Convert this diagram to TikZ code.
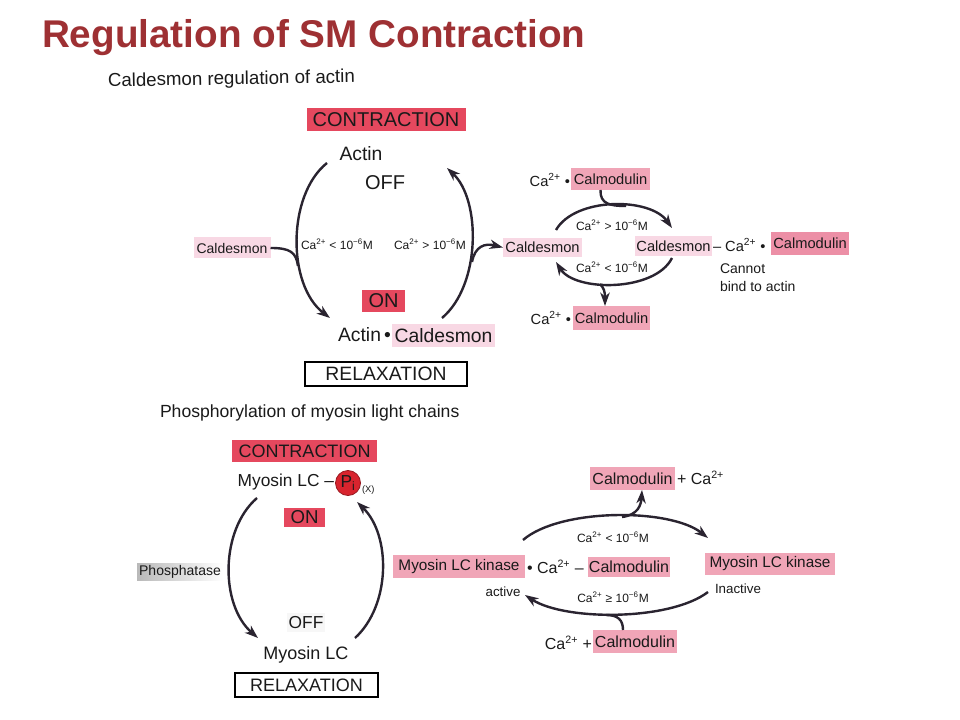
\documentclass[tikz,border=0pt]{standalone}
\usepackage{fontspec}
\setmainfont{Liberation Sans}
\usetikzlibrary{arrows.meta,shadings}
\definecolor{titlered}{HTML}{9E3033}
\definecolor{boxred}{HTML}{E5485E}
\definecolor{pinkL}{HTML}{F8D8E4}
\definecolor{pinkD}{HTML}{F0A5B7}
\definecolor{pinkM}{HTML}{EC8FA6}
\definecolor{linec}{HTML}{2A2430}
\definecolor{txt}{HTML}{1A1A1A}
\definecolor{pred}{HTML}{D8242E}
\newcommand{\cazp}{Ca\textsuperscript{2+}}
\newcommand{\fsz}[1]{\fontsize{#1pt}{#1pt}\selectfont}
\begin{document}
\begin{tikzpicture}[x=0.75pt,y=-0.75pt,
  every node/.style={text=txt, inner sep=0pt, outer sep=0pt},
  wh/.style 2 args={minimum width=#1*0.75pt, minimum height=#2*0.75pt},
  redbox/.style={fill=boxred},
  lpink/.style={fill=pinkL},
  dpink/.style={fill=pinkD},
  mpink/.style={fill=pinkM},
  framebox/.style={draw=black, line width=0.9pt, fill=white},
  arr/.style={draw=linec, line width=1.8pt, -{Stealth[length=10pt,width=7pt,inset=3pt]}},
  plain/.style={draw=linec, line width=1.8pt},
  small/.style={font=\fsz{9}},
]
\useasboundingbox (0,0) rectangle (960,720);
\fill[white] (0,0) rectangle (960,720);

% ---- titles
\node[anchor=west, text=titlered, font=\bfseries\fsz{29}] (title) at (42,38) {Regulation of SM Contraction};
\node[anchor=west, font=\fsz{14}, rotate=1] (sub1) at (108,82) {Caldesmon regulation of actin};

% ---- top-left cycle
\node[redbox, wh={159}{23}, font=\fsz{15}] (contr1) at (386,120) {CONTRACTION};
\node[font=\fsz{14.5}] (actin) at (361,154) {Actin};
\node[font=\fsz{15}] (off1) at (385,183) {OFF};
\node[lpink, wh={77}{21}, font=\fsz{10.5}] (caldL) at (232,248) {Caldesmon};
\node[small] (lowca1) at (337,244) {\cazp{} < 10\textsuperscript{−6}M};
\node[small] (highca1) at (430,244) {\cazp{} > 10\textsuperscript{−6}M};
\node[redbox, wh={43}{22}, font=\fsz{15}] (on1) at (383.5,301) {ON};
\node[anchor=east, font=\fsz{14.5}] (actin2) at (391,335) {Actin\,•};
\node[lpink, wh={103}{23}, font=\fsz{14.5}] (caldB) at (443.5,335.5) {Caldesmon};
\node[framebox, wh={162}{24}, font=\fsz{14.5}] (relax1) at (386,374) {RELAXATION};

\coordinate (l1s) at (327,163);
\coordinate (l1e) at (330,318);
\coordinate (r1s) at (442,318);
\coordinate (r1e) at (447,168);
\coordinate (l1m) at (298,266);
\coordinate (r1m) at (472,262);
\draw[arr] (l1s) .. controls (287,195) and (287,285) .. (l1e);
\draw[arr] (r1s) .. controls (481,285) and (481,200) .. (r1e);
\draw[plain] (caldL.east) .. controls (290,248) and (296,252) .. (l1m);

% ---- top-right
\node[anchor=east, font=\fsz{11}] (ca1) at (570,180) {\cazp{} •};
\node[dpink, wh={79}{22}, font=\fsz{11}] (calm1) at (610.5,179) {Calmodulin};
\node[lpink, wh={79}{19}, font=\fsz{11}] (caldR1) at (542.5,247.5) {Caldesmon};
\node[small] (hc2) at (612,225) {\cazp{} > 10\textsuperscript{−6}M};
\node[small] (lc2) at (612,267) {\cazp{} < 10\textsuperscript{−6}M};
\node[lpink, wh={77}{20}, font=\fsz{11}] (caldR2) at (673.5,246) {Caldesmon};
\node[anchor=west, font=\fsz{11}] (dash2) at (713,245) {– \cazp{} •};
\node[mpink, wh={78}{23}, font=\fsz{11}] (calm2) at (810,243.5) {Calmodulin};
\node[anchor=north west, align=left, font=\fsz{10.5}] (cannot) at (720,264) {Cannot\\[3pt]bind to actin};
\node[anchor=east, font=\fsz{11}] (ca3) at (571,318) {\cazp{} •};
\node[dpink, wh={77}{24}, font=\fsz{11}] (calm3) at (611.5,318) {Calmodulin};

\draw[arr] (r1m) .. controls (475,246) and (485,243) .. (caldR1.west);
\coordinate (t2s) at (556,230);
\coordinate (t2e) at (672,228);
\coordinate (t2m) at (626,206);
\coordinate (b2s) at (672,258);
\coordinate (b2e) at (556,262);
\coordinate (b2m) at (600,284);
\draw[arr] (t2s) .. controls (575,197) and (650,197) .. (t2e);
\draw[plain] (calm1.south) ++(-10,0) coordinate (c1s) .. controls (600,204) and (610,206) .. (t2m);
\draw[arr] (b2s) .. controls (655,292) and (575,292) .. (b2e);
\draw[arr] (b2m) .. controls (604,288) and (605,292) .. (calm3.north -| 605,300);

% ---- bottom-left cycle
\node[anchor=west, font=\fsz{13.2}] (sub2) at (160,413) {Phosphorylation of myosin light chains};
\node[redbox, wh={145}{22}, font=\fsz{13.5}] (contr2) at (304.5,451) {CONTRACTION};
\node[anchor=east, font=\fsz{13}] (mlc) at (334,482) {Myosin LC –};
\node[circle, fill=pred, draw=pred!70!black, line width=0.6pt, minimum size=25*0.75pt, font=\fsz{13}] (pi) at (348,483) {P\textsubscript{i}};
\node[anchor=west, font=\fsz{7}] (xx) at (362,490) {(X)};
\node[redbox, wh={41}{19}, font=\fsz{14}] (on2) at (304.5,517.5) {ON};
\node[left color=gray!55, right color=white, wh={86}{17}, font=\fsz{10.5}] (phos) at (180,571.5) {Phosphatase};
\node[fill=gray!6, wh={38}{19}, font=\fsz{13}] (off2) at (306,622.5) {OFF};
\node[font=\fsz{13.5}] (mlc2) at (306,655) {Myosin LC};
\node[framebox, wh={143}{24}, font=\fsz{13.5}] (relax2) at (306.5,685) {RELAXATION};

\coordinate (l3s) at (257,498);
\coordinate (l3e) at (258,638);
\coordinate (r3s) at (355,638);
\coordinate (r3e) at (357,502);
\draw[arr] (l3s) .. controls (220,530) and (220,605) .. (l3e);
\draw[arr] (r3s) .. controls (391,605) and (391,535) .. (r3e);

% ---- bottom-right
\node[dpink, wh={85}{23}, font=\fsz{12}] (calm4) at (632.5,478.5) {Calmodulin};
\node[anchor=west, font=\fsz{12}] (plus4) at (677,478) {+ \cazp};
\node[small] (lc3) at (613,537) {\cazp{} < 10\textsuperscript{−6}M};
\node[dpink, wh={132}{23}, font=\fsz{11.5}] (mlck1) at (459,566.5) {Myosin LC kinase};
\node[anchor=west, font=\fsz{12}] (mid5) at (527,567) {• \cazp{} –};
\node[dpink, wh={82}{20}, font=\fsz{12}] (calm5) at (629,567) {Calmodulin};
\node[dpink, wh={130}{22}, font=\fsz{11.5}] (mlck2) at (770,564) {Myosin LC kinase};
\node[font=\fsz{10}] (active) at (503,592) {active};
\node[font=\fsz{10}] (inactive) at (738,589) {Inactive};
\node[small] (ge) at (613,597) {\cazp{} ≥ 10\textsuperscript{−6}M};
\node[anchor=east, font=\fsz{12}] (ca6) at (592,643) {\cazp{} +};
\node[dpink, wh={84}{23}, font=\fsz{12}] (calm6) at (635,641.5) {Calmodulin};

\coordinate (t4s) at (523,540);
\coordinate (t4e) at (708,538);
\coordinate (t4m) at (622,517);
\coordinate (b4s) at (708,592);
\coordinate (b4e) at (525,595);
\coordinate (b4m) at (606,615);
\draw[arr] (t4s) .. controls (560,508) and (670,508) .. (t4e);
\draw[arr] (t4m) .. controls (638,515) and (641,505) .. (calm4.south -| 642,490);
\draw[arr] (b4s) .. controls (670,621) and (565,621) .. (b4e);
\draw[plain] (calm6.north -| 623,630) .. controls (623,620) and (618,615) .. (b4m);
\end{tikzpicture}
\end{document}
